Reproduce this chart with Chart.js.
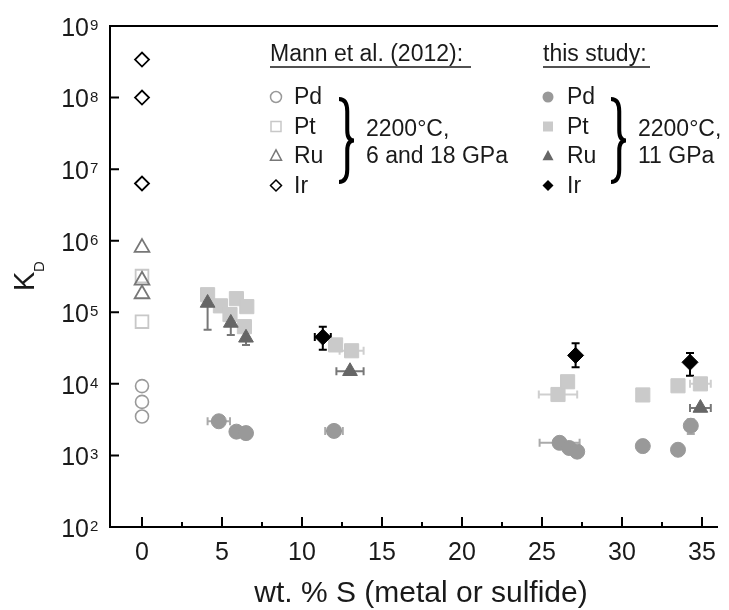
<!DOCTYPE html>
<html>
<head>
<meta charset="utf-8">
<script src="https://cdn.jsdelivr.net/npm/chart.js@4.4.1/dist/chart.umd.min.js"></script>
<style>
  html, body { margin: 0; padding: 0; background: #fff; }
  #kd { display: block; width: 729px; height: 610px; }
</style>
</head>
<body>
<canvas id="kd" width="729" height="610"></canvas>
<script>
// Mann et al. (2012), all at 0 wt.% S
const mannPdX = [0, 0, 0];
const mannPdY = [9300, 5600, 3500];
const mannPtX = [0, 0];
const mannPtY = [320000, 74000];
const mannRuX = [0, 0, 0];
const mannRuY = [800000, 280000, 180000];
const mannIrX = [0, 0, 0];
const mannIrY = [3.4e8, 1.0e8, 6.3e6];

// this study
const pdX = [4.8, 5.9, 6.5, 12.0, 26.1, 26.7, 27.2, 31.3, 33.5, 34.3];
const pdY = [3000, 2150, 2050, 2200, 1500, 1270, 1130, 1350, 1200, 2600];
const pdXErr = [0.7, 0, 0, 0.55, 1.25, 0, 0, 0.3, 0, 0];
const pdYLo = [null, null, null, null, null, null, null, null, null, 2000];
const pdYHi = [null, null, null, null, null, null, null, null, null, 3200];

const ptX = [4.1, 4.9, 5.9, 6.55, 5.5, 6.4, 12.1, 13.1, 26.0, 26.6, 31.3, 33.5, 34.9];
const ptY = [176000, 123000, 155000, 120000, 93000, 63000, 35000, 29000, 7100, 10700, 7000, 9400, 10000];
const ptXErr = [0, 0, 0, 0, 0, 0, 0, 0.75, 1.2, 0, 0.3, 0, 0.65];

const ruX = [4.1, 5.55, 6.5, 13.0, 34.9];
const ruY = [135000, 71000, 44000, 15000, 4600];
const ruXErr = [0, 0, 0, 0.85, 0.65];
const ruYLo = [57000, 48000, 35000, null, null];
const ruYHi = [210000, 88000, 56000, null, null];

const irX = [11.3, 27.1, 34.25];
const irY = [45000, 25000, 20000];
const irXErr = [0.5, 0, 0];
const irYLo = [30000, 17000, 13000];
const irYHi = [63000, 37000, 27000];

const xMajor = [0, 5, 10, 15, 20, 25, 30, 35];
const xMinor = [2.5, 7.5, 12.5, 17.5, 22.5, 27.5, 32.5];
const yDecades = [2, 3, 4, 5, 6, 7, 8, 9];

const FONT = '"Liberation Sans", Arial, sans-serif';
const TXT = '#1a1a1a';

function pts(xs, ys) {
    return xs.map((x, i) => ({ x: x, y: ys[i] }));
}

// small marker painter for the legend
function marker(ctx, style, x, y, r, fill, stroke) {
    ctx.save();
    ctx.beginPath();
    if (style === 'circle') {
        ctx.arc(x, y, r, 0, Math.PI * 2);
    } else if (style === 'rect') {
        ctx.rect(x - r, y - r, 2 * r, 2 * r);
    } else if (style === 'triangle') {
        ctx.moveTo(x, y - r * 1.1);
        ctx.lineTo(x + r, y + r * 0.75);
        ctx.lineTo(x - r, y + r * 0.75);
        ctx.closePath();
    } else {
        ctx.moveTo(x, y - r);
        ctx.lineTo(x + r, y);
        ctx.lineTo(x, y + r);
        ctx.lineTo(x - r, y);
        ctx.closePath();
    }
    if (fill) { ctx.fillStyle = fill; ctx.fill(); }
    if (stroke) { ctx.strokeStyle = stroke; ctx.lineWidth = 1.5; ctx.stroke(); }
    ctx.restore();
}

function brace(ctx, x, yTop, yBot, w) {
    const h = yBot - yTop;
    const ym = (yTop + yBot) / 2;
    const xs = x + w * 0.55;
    ctx.save();
    ctx.strokeStyle = '#000';
    ctx.lineWidth = 4;
    ctx.beginPath();
    ctx.moveTo(x, yTop);
    ctx.quadraticCurveTo(xs, yTop, xs, yTop + h * 0.15);
    ctx.lineTo(xs, ym - h * 0.12);
    ctx.quadraticCurveTo(xs, ym, x + w, ym);
    ctx.quadraticCurveTo(xs, ym, xs, ym + h * 0.12);
    ctx.lineTo(xs, yBot - h * 0.15);
    ctx.quadraticCurveTo(xs, yBot, x, yBot);
    ctx.stroke();
    ctx.restore();
}

const errorBars = {
    id: 'errorBars',
    beforeDatasetsDraw(chart) {
        const ctx = chart.ctx;
        const xs = chart.scales.x, ys = chart.scales.y;
        const cap = 4;
        chart.data.datasets.forEach(ds => {
            if (!ds.xErr && !ds.yLo) return;
            ctx.save();
            ctx.strokeStyle = ds.errColor;
            ctx.lineWidth = 2;
            ds.data.forEach((p, i) => {
                const px = xs.getPixelForValue(p.x);
                const py = ys.getPixelForValue(p.y);
                if (ds.xErr && ds.xErr[i]) {
                    const x1 = xs.getPixelForValue(p.x - ds.xErr[i]);
                    const x2 = xs.getPixelForValue(p.x + ds.xErr[i]);
                    ctx.beginPath();
                    ctx.moveTo(x1, py); ctx.lineTo(x2, py);
                    ctx.moveTo(x1, py - cap); ctx.lineTo(x1, py + cap);
                    ctx.moveTo(x2, py - cap); ctx.lineTo(x2, py + cap);
                    ctx.stroke();
                }
                if (ds.yLo && ds.yLo[i] != null) {
                    const y1 = ys.getPixelForValue(ds.yLo[i]);
                    const y2 = ys.getPixelForValue(ds.yHi[i]);
                    ctx.beginPath();
                    ctx.moveTo(px, y1); ctx.lineTo(px, y2);
                    ctx.moveTo(px - cap, y1); ctx.lineTo(px + cap, y1);
                    ctx.moveTo(px - cap, y2); ctx.lineTo(px + cap, y2);
                    ctx.stroke();
                }
            });
            ctx.restore();
        });
    }
};

const axesAndText = {
    id: 'axesAndText',
    afterDraw(chart) {
        const ctx = chart.ctx;
        const a = chart.chartArea;
        const xs = chart.scales.x, ys = chart.scales.y;
        ctx.save();
        ctx.strokeStyle = '#000';
        ctx.lineWidth = 2;
        // left, bottom and top lines
        ctx.beginPath();
        ctx.moveTo(a.right, a.top); ctx.lineTo(a.left, a.top);
        ctx.lineTo(a.left, a.bottom); ctx.lineTo(a.right, a.bottom);
        ctx.stroke();
        // x ticks, pointing inward
        ctx.beginPath();
        xMajor.forEach(v => {
            const px = xs.getPixelForValue(v);
            ctx.moveTo(px, a.bottom); ctx.lineTo(px, a.bottom - 10);
        });
        xMinor.forEach(v => {
            const px = xs.getPixelForValue(v);
            ctx.moveTo(px, a.bottom); ctx.lineTo(px, a.bottom - 5);
        });
        // y ticks
        yDecades.forEach(d => {
            const py = ys.getPixelForValue(Math.pow(10, d));
            ctx.moveTo(a.left, py); ctx.lineTo(a.left + 9, py);
        });
        ctx.stroke();

        // tick labels
        ctx.fillStyle = TXT;
        ctx.font = '25px ' + FONT;
        ctx.textAlign = 'center';
        ctx.textBaseline = 'middle';
        xMajor.forEach(v => {
            ctx.fillText(String(v), xs.getPixelForValue(v), a.bottom + 26);
        });
        yDecades.forEach(d => {
            const py = ys.getPixelForValue(Math.pow(10, d));
            ctx.font = '25px ' + FONT;
            ctx.textAlign = 'right';
            ctx.textBaseline = 'middle';
            ctx.fillText('10', 89, py + 3);
            ctx.font = '15px ' + FONT;
            ctx.textAlign = 'left';
            ctx.textBaseline = 'alphabetic';
            ctx.fillText(String(d), 90, py + 4);
        });

        // axis titles
        ctx.font = '30px ' + FONT;
        ctx.textAlign = 'center';
        ctx.textBaseline = 'middle';
        ctx.fillText('wt. % S (metal or sulfide)', 421, 594);
        ctx.save();
        ctx.translate(34, 291);
        ctx.rotate(-Math.PI / 2);
        ctx.textAlign = 'left';
        ctx.textBaseline = 'alphabetic';
        ctx.font = '29px ' + FONT;
        ctx.fillText('K', 0, 0);
        ctx.font = '15px ' + FONT;
        ctx.fillText('D', 19, 10);
        ctx.restore();

        // legend
        ctx.font = '23px ' + FONT;
        ctx.textAlign = 'left';
        ctx.textBaseline = 'middle';
        ctx.fillText('Mann et al. (2012):', 270, 55);
        ctx.fillText('this study:', 543, 55);
        ctx.lineWidth = 1.5;
        ctx.strokeStyle = TXT;
        ctx.beginPath();
        ctx.moveTo(270, 67); ctx.lineTo(471, 67);
        ctx.moveTo(543, 67); ctx.lineTo(650, 67);
        ctx.stroke();

        const rows = [['Pd', 'circle'], ['Pt', 'rect'], ['Ru', 'triangle'], ['Ir', 'diamond']];
        const openCol = ['#999', '#c8c8c8', '#777', '#000'];
        const fillCol = ['#999', '#cacaca', '#666', '#000'];
        rows.forEach((r, i) => {
            const y = 97 + i * 29.5;
            const size = r[1] === 'rect' ? 5 : 5.5;
            marker(ctx, r[1], 276, y, size, null, openCol[i]);
            marker(ctx, r[1], 548, y, size, fillCol[i], null);
            ctx.fillStyle = TXT;
            ctx.fillText(r[0], 294, y + 1);
            ctx.fillText(r[0], 567, y + 1);
        });
        brace(ctx, 339, 99, 182, 15);
        brace(ctx, 611, 99, 182, 15);
        ctx.fillStyle = TXT;
        ctx.fillText('2200°C,', 366, 130);
        ctx.fillText('6 and 18 GPa', 366, 157);
        ctx.fillText('2200°C,', 638, 130);
        ctx.fillText('11 GPa', 638, 157);
        ctx.restore();
    }
};

const canvas = document.getElementById('kd');

new Chart(canvas, {
    type: 'scatter',
    data: {
        datasets: [
            {
                label: 'Ir (this study)', data: pts(irX, irY),
                pointStyle: 'rectRot', pointRadius: 8,
                backgroundColor: '#000', borderColor: '#000', borderWidth: 1,
                xErr: irXErr, yLo: irYLo, yHi: irYHi, errColor: '#000'
            },
            {
                label: 'Ru (this study)', data: pts(ruX, ruY),
                pointStyle: 'triangle', pointRadius: 8.5,
                backgroundColor: '#666', borderColor: '#666', borderWidth: 1,
                xErr: ruXErr, yLo: ruYLo, yHi: ruYHi, errColor: '#777'
            },
            {
                label: 'Pt (this study)', data: pts(ptX, ptY),
                pointStyle: 'rect', pointRadius: 10,
                backgroundColor: '#cacaca', borderColor: '#cacaca', borderWidth: 1,
                xErr: ptXErr, errColor: '#cfcfcf'
            },
            {
                label: 'Pd (this study)', data: pts(pdX, pdY),
                pointStyle: 'circle', pointRadius: 7.5,
                backgroundColor: '#999', borderColor: '#999', borderWidth: 1,
                xErr: pdXErr, yLo: pdYLo, yHi: pdYHi, errColor: '#aaa'
            },
            {
                label: 'Ir (Mann)', data: pts(mannIrX, mannIrY),
                pointStyle: 'rectRot', pointRadius: 7,
                backgroundColor: 'rgba(0,0,0,0)', borderColor: '#000', borderWidth: 1.8
            },
            {
                label: 'Ru (Mann)', data: pts(mannRuX, mannRuY),
                pointStyle: 'triangle', pointRadius: 8.5,
                backgroundColor: 'rgba(0,0,0,0)', borderColor: '#777', borderWidth: 1.8
            },
            {
                label: 'Pt (Mann)', data: pts(mannPtX, mannPtY),
                pointStyle: 'rect', pointRadius: 9,
                backgroundColor: 'rgba(0,0,0,0)', borderColor: '#c8c8c8', borderWidth: 1.8
            },
            {
                label: 'Pd (Mann)', data: pts(mannPdX, mannPdY),
                pointStyle: 'circle', pointRadius: 6.5,
                backgroundColor: 'rgba(0,0,0,0)', borderColor: '#999', borderWidth: 1.6
            }
        ]
    },
    options: {
        responsive: false,
        animation: false,
        devicePixelRatio: 1,
        layout: { padding: { top: 26, right: 10, left: 0, bottom: 0 } },
        plugins: {
            legend: { display: false },
            tooltip: { enabled: false },
            title: { display: false }
        },
        scales: {
            x: {
                type: 'linear', min: -2, max: 36,
                grid: { display: false }, border: { display: false },
                ticks: { display: false },
                afterFit: s => { s.height = 83; }
            },
            y: {
                type: 'logarithmic', min: 100, max: 1e9,
                grid: { display: false }, border: { display: false },
                ticks: { display: false },
                afterFit: s => { s.width = 110; }
            }
        }
    },
    plugins: [errorBars, axesAndText]
});
</script>
</body>
</html>
